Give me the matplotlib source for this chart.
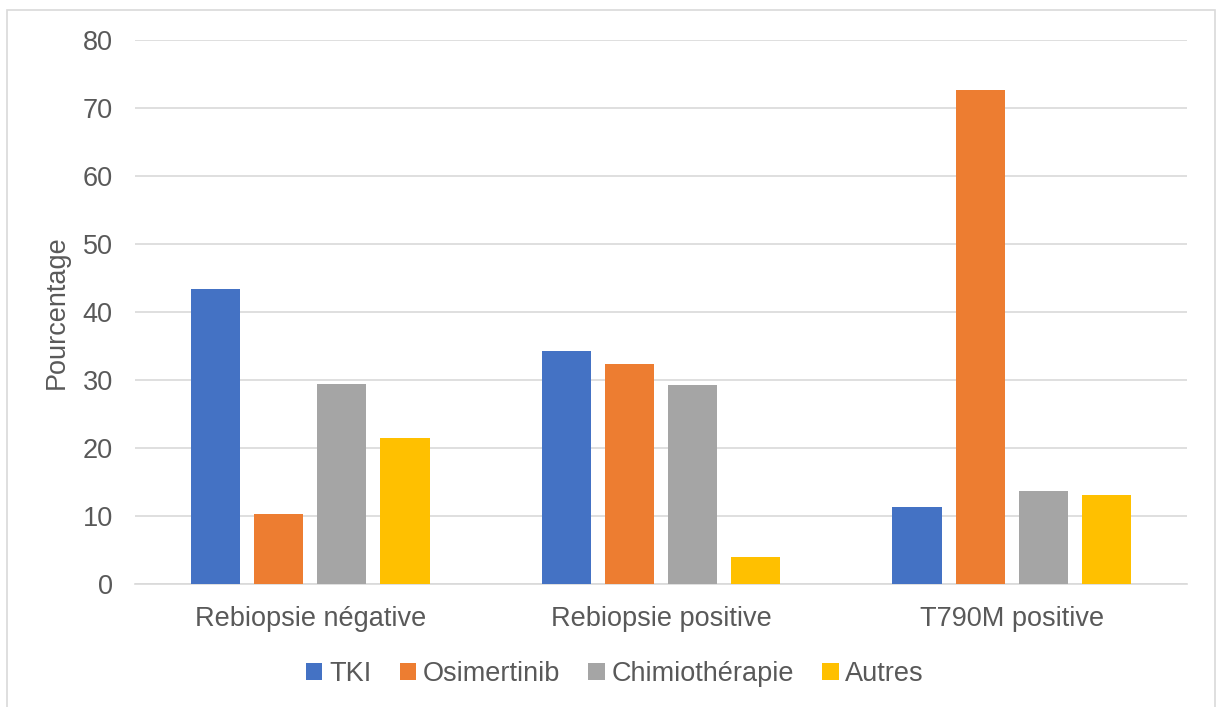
import numpy as np
import matplotlib.pyplot as plt
from matplotlib.patches import Rectangle

plt.rcParams['font.family'] = ['Liberation Sans', 'DejaVu Sans']

groups = ['Rebiopsie négative', 'Rebiopsie positive', 'T790M positive']
series = ['TKI', 'Osimertinib', 'Chimiothérapie', 'Autres']
tki = [43.4, 34.3, 11.3]
osimertinib = [10.3, 32.3, 72.6]
chimio = [29.4, 29.2, 13.7]
autres = [21.4, 3.9, 13.1]
colors = ['#4472C4', '#ED7D31', '#A5A5A5', '#FFC000']

text_color = '#595959'
grid_color = '#D9D9D9'
fs = 19.5

fig = plt.figure(figsize=(12.16, 7.07), dpi=100)
ax = fig.add_axes([135 / 1216, 1 - 584 / 707, 1052 / 1216, 544 / 707])

x = np.arange(len(groups))
width = 0.14
step = 0.18
for i, (name, vals) in enumerate(zip(series, [tki, osimertinib, chimio, autres])):
    ax.bar(x + (i - 1.5) * step, vals, width, color=colors[i], label=name, zorder=3)

ax.set_xlim(-0.5, 2.5)
ax.set_ylim(0, 80)
ax.set_yticks(range(0, 81, 10))
ax.set_xticks(x)
ax.set_xticklabels(groups)
ax.yaxis.grid(True, color=grid_color, linewidth=1.2, zorder=0)
ax.set_axisbelow(True)
for s in ['top', 'right', 'left']:
    ax.spines[s].set_visible(False)
ax.spines['bottom'].set_color(grid_color)
ax.spines['bottom'].set_linewidth(1.2)
ax.tick_params(axis='both', length=0, labelsize=fs, labelcolor=text_color)
ax.tick_params(axis='y', pad=16)
ax.tick_params(axis='x', pad=16)

fig.text(57 / 1216, 1 - 312 / 707, 'Pourcentage', rotation=90, ha='center', va='center',
         fontsize=fs, color=text_color)

fig.legend(loc='center', bbox_to_anchor=(615 / 1216, 1 - 674 / 707), ncol=4, frameon=False,
           fontsize=fs, labelcolor=text_color, handlelength=0.6, handleheight=0.6,
           handletextpad=0.25, columnspacing=1.05)

# light outer frame of the chart area
fig.patches.append(Rectangle((7 / 1216, -0.1), 1208 / 1216, 1.1 - 10 / 707,
                             transform=fig.transFigure, fill=False,
                             edgecolor=grid_color, linewidth=1.2))

fig.savefig('out.png', dpi=100)
